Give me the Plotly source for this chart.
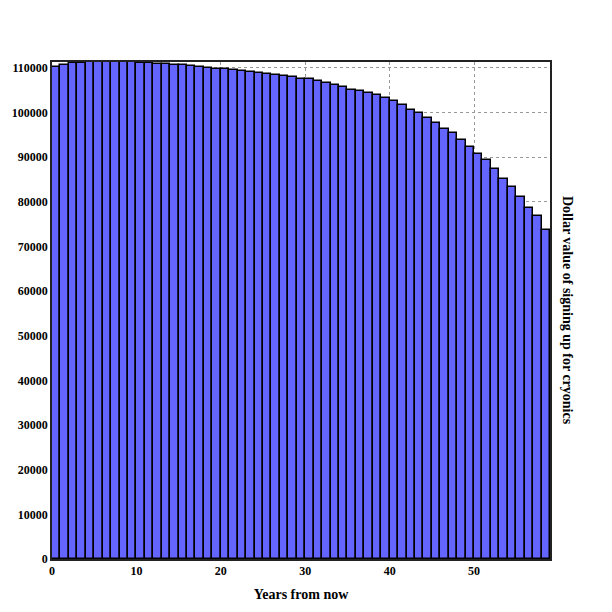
import plotly.graph_objects as go

years = list(range(59))
values = [
    110080, 110600, 110970, 111120, 111190, 111190, 111190, 111190, 111190, 111190,
    111120, 110970, 110820, 110750, 110600, 110530, 110300, 110155, 109930, 109780,
    109640, 109420, 109190, 109040, 108820, 108600, 108380, 108155, 107860, 107490,
    107415, 107120, 106670, 106155, 105710, 105120, 104895, 104300, 104010, 103340,
    102490, 101560, 100530, 99930, 98750, 97560, 96300, 95415, 93930, 92300,
    90600, 89340, 87270, 85190, 83415, 81045, 78600, 76820, 73710,
]
x_ticks = [0, 10, 20, 30, 40, 50]
y_ticks = list(range(0, 110001, 10000))

font_family = "Liberation Serif"

fig = go.Figure()
fig.add_trace(go.Bar(
    x=[y + 0.5 for y in years],
    y=values,
    width=1,
    marker=dict(color="#6464ff", line=dict(color="black", width=1.5)),
    hoverinfo="skip",
))

fig.update_layout(
    width=612, height=612,
    margin=dict(l=50, r=62, t=62, b=50),
    paper_bgcolor="white", plot_bgcolor="white",
    showlegend=False,
    bargap=0,
    font=dict(family=font_family, size=12, color="black", weight="bold"),
    xaxis=dict(
        range=[0, 59],
        tickvals=x_ticks,
        ticktext=[str(v) for v in x_ticks],
        showgrid=True, gridcolor="#999999", griddash="dot", gridwidth=1,
        zeroline=False,
        showline=True, linecolor="#222222", linewidth=1.5, mirror=True,
        ticks="", tickfont=dict(family=font_family, size=12, weight="bold"),
        title=dict(text="Years from now", font=dict(family=font_family, size=14, weight="bold"), standoff=12),
    ),
    yaxis=dict(
        range=[0, 111300],
        tickvals=y_ticks,
        ticktext=[str(v) for v in y_ticks],
        showgrid=True, gridcolor="#999999", griddash="dot", gridwidth=1,
        zeroline=False,
        showline=True, linecolor="#222222", linewidth=1.5, mirror=True,
        ticks="", tickfont=dict(family=font_family, size=12, weight="bold"),
    ),
    annotations=[dict(
        text="Dollar value of signing up for cryonics",
        xref="paper", yref="paper", x=1.0, y=0.5,
        xanchor="left", yanchor="middle", xshift=8,
        textangle=90, showarrow=False,
        font=dict(family=font_family, size=14, weight="bold", color="black"),
    )],
)

fig.write_html("out.html")
